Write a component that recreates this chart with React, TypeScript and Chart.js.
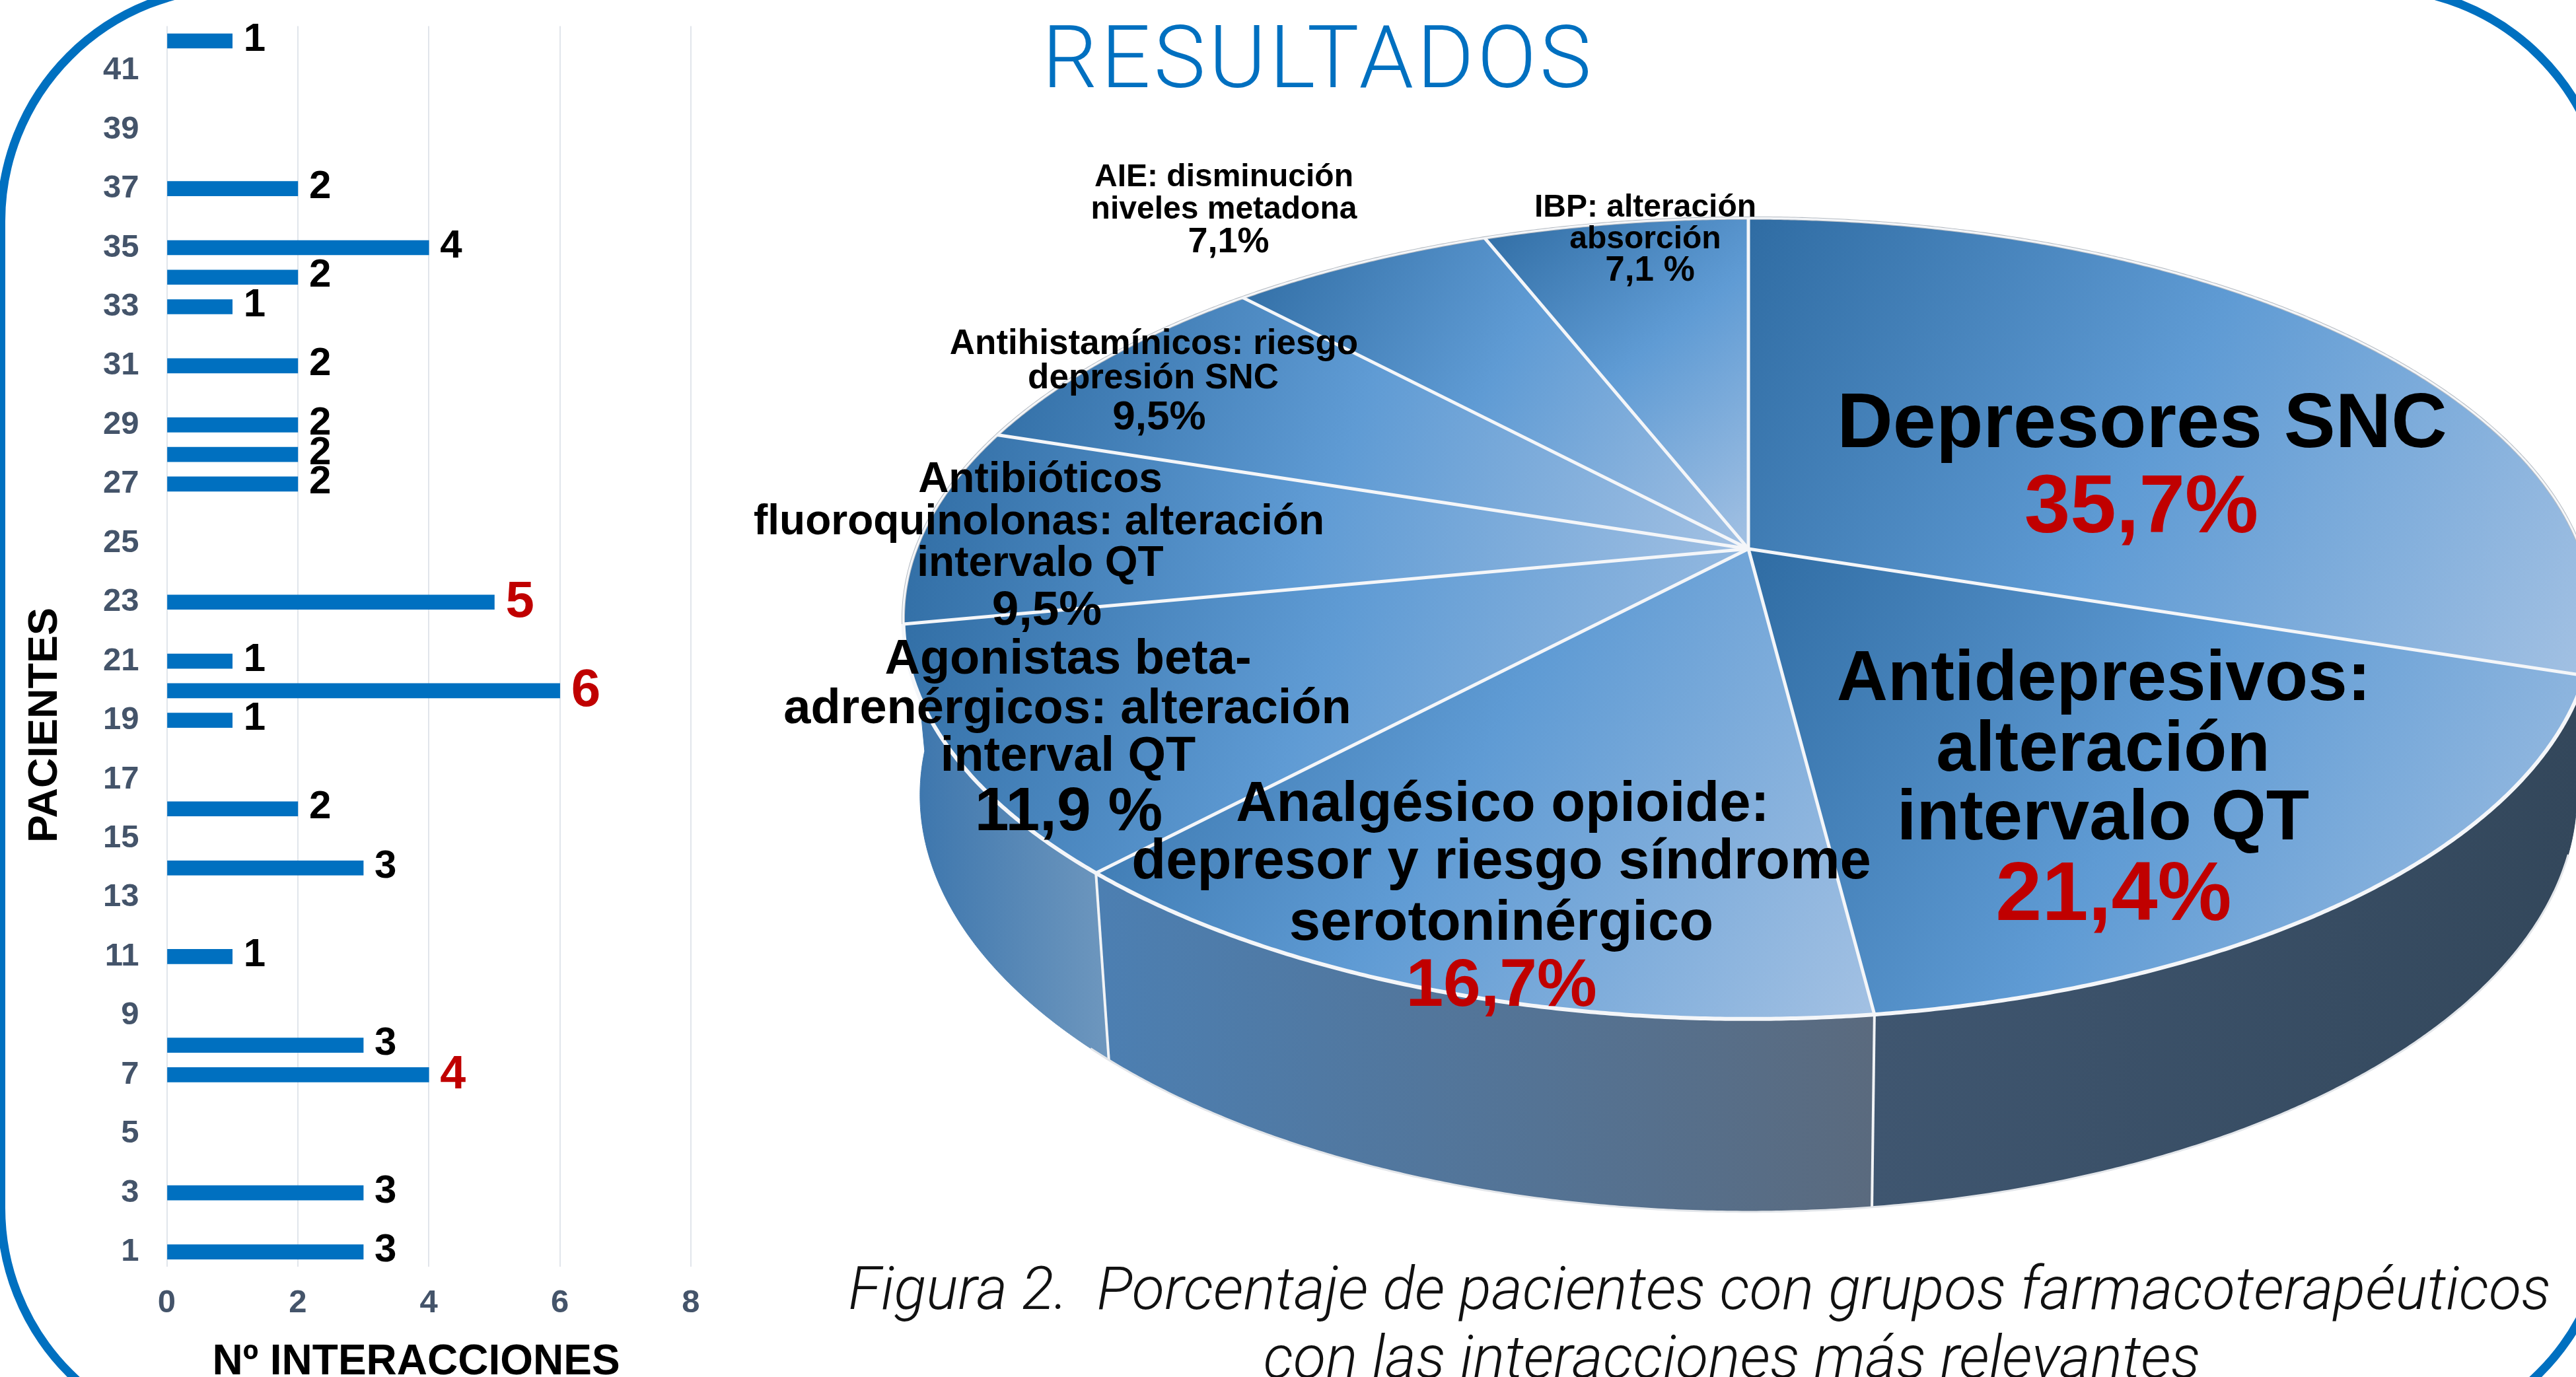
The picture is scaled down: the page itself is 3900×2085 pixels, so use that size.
import React, { useEffect, useRef } from "react";
import { Chart, registerables } from "chart.js";

Chart.register(...registerables);

const patients = Array.from({ length: 42 }, (_, i) => String(i + 1));
const interactions: (number | null)[] = [
  3, null, 3, null, null, null, 4, 3, null, null,
  1, null, null, 3, null, 2, null, null, 1, 6,
  1, null, 5, null, null, null, 2, 2, 2, null,
  2, null, 1, 2, 4, null, 2, null, null, null,
  null, 1,
];
const redBarLabels: Record<number, number> = { 6: 70, 19: 80, 22: 78 };

const groupCounts = [15, 9, 7, 5, 4, 4, 3, 3];
const groupNames = [
  "Depresores SNC",
  "Antidepresivos",
  "Analgésico opioide",
  "Agonistas beta-adrenérgicos",
  "Antibióticos fluoroquinolonas",
  "Antihistamínicos",
  "AIE",
  "IBP",
];
type L = [string, number, number, number, string?];
const pieLabels: L[] = [
  ["Depresores SNC", 3243, 637, 117],
  ["35,7%", 3242, 763, 125, "#C00000"],
  ["Antidepresivos:", 3185, 1023, 107],
  ["alteración", 3184, 1130, 107],
  ["intervalo QT", 3184, 1234, 107],
  ["21,4%", 3200, 1349, 126, "#C00000"],
  ["Analgésico opioide:", 2275, 1214, 85],
  ["depresor y riesgo síndrome", 2273, 1301, 85],
  ["serotoninérgico", 2273, 1394, 85],
  ["16,7%", 2273, 1488, 102, "#C00000"],
  ["Agonistas beta-", 1617, 994, 74],
  ["adrenérgicos: alteración", 1616, 1069, 74],
  ["interval QT", 1617, 1141, 74],
  ["11,9 %", 1618, 1225, 93],
  ["Antibióticos", 1575, 723, 64],
  ["fluoroquinolonas: alteración", 1573, 787, 64],
  ["intervalo QT", 1575, 850, 64],
  ["9,5%", 1585, 921, 73],
  ["Antihistamínicos: riesgo", 1747, 518, 53],
  ["depresión SNC", 1746, 570, 53],
  ["9,5%", 1755, 629, 62],
  ["AIE: disminución", 1853, 265, 48],
  ["niveles metadona", 1853, 314, 48],
  ["7,1%", 1860, 363, 54],
  ["IBP: alteración", 2491, 311, 48],
  ["absorción", 2491, 359, 48],
  ["7,1 %", 2498, 407, 53],
];
const wallStops: [string, string][] = [
  ["#33475B", "#33475B"],
  ["#3F5670", "#33475B"],
  ["#4C7FB2", "#5A6A7E"],
  ["#3A74AC", "#6E97BE"],
];

const FONT = '"Liberation Sans", Arial, sans-serif';

const TOP = { cx: 2647, cy: 831, a: 1260, b: 588, k: 0.174 };
const BOT = { cx: 2647, cy: 1094, a: 1235, b: 612, k: 0.174 };
const WALL_FROM = 95;
const WALL_TO = 266;

function proj(p: typeof TOP, ang: number): [number, number] {
  const X = Math.cos(ang);
  const Y = Math.sin(ang);
  const d = 1 - p.k * Y;
  return [p.cx + (p.a * X) / d, p.cy + (p.b * Y) / d];
}
const rad = (deg: number) => ((deg - 90) * Math.PI) / 180;

function ring(p: typeof TOP, from: number, to: number): [number, number][] {
  const out: [number, number][] = [];
  const n = Math.max(2, Math.ceil((to - from) / 0.005));
  for (let i = 0; i <= n; i++) out.push(proj(p, from + ((to - from) * i) / n));
  return out;
}

const perspectivePie = {
  id: "perspectivePie",
  beforeDatasetsDraw(chart: any) {
    const ctx: CanvasRenderingContext2D = chart.ctx;
    const arcs = chart.getDatasetMeta(0).data as any[];
    ctx.save();
    // side wall
    const vis0 = rad(WALL_FROM);
    const vis1 = rad(WALL_TO);
    arcs.slice(0, 4).forEach((arc, i) => {
      const s = Math.max(arc.startAngle, vis0);
      const e = i === 3 ? vis1 : Math.min(arc.endAngle, vis1);
      const top = ring(TOP, s, e);
      const bot = ring(BOT, s, e).reverse();
      const xs = [...top, ...bot].map((q) => q[0]);
      const x0 = Math.min(...xs);
      const x1 = Math.max(...xs);
      const g = ctx.createLinearGradient(x0, 0, x1, 0);
      g.addColorStop(0, wallStops[i][0]);
      g.addColorStop(1, wallStops[i][1]);
      ctx.beginPath();
      [...top, ...bot].forEach((q, j) => (j ? ctx.lineTo(q[0], q[1]) : ctx.moveTo(q[0], q[1])));
      ctx.closePath();
      ctx.fillStyle = g;
      ctx.fill();
      ctx.strokeStyle = g;
      ctx.lineWidth = 1;
      ctx.stroke();
    });
    // wall dividers and outer rim
    ctx.strokeStyle = "#F2F4F6";
    ctx.lineWidth = 4;
    arcs.slice(1, 3).forEach((arc) => {
      const a = proj(TOP, arc.endAngle);
      const b = proj(BOT, arc.endAngle);
      ctx.beginPath();
      ctx.moveTo(a[0], a[1]);
      ctx.lineTo(b[0], b[1]);
      ctx.stroke();
    });
    ctx.lineWidth = 3;
    ctx.strokeStyle = "#E3E6EA";
    ctx.beginPath();
    ring(BOT, rad(108), rad(225)).forEach((q, j) => (j ? ctx.lineTo(q[0], q[1]) : ctx.moveTo(q[0], q[1])));
    ctx.stroke();

    // top face
    arcs.forEach((arc) => {
      const pts = ring(TOP, arc.startAngle, arc.endAngle);
      const xs = [TOP.cx, ...pts.map((q) => q[0])];
      const ys = [TOP.cy, ...pts.map((q) => q[1])];
      const g = ctx.createLinearGradient(Math.min(...xs), Math.min(...ys), Math.max(...xs), Math.max(...ys));
      g.addColorStop(0, "#2F6CA3");
      g.addColorStop(0.48, "#5F9BD4");
      g.addColorStop(1, "#A3C1E3");
      ctx.beginPath();
      ctx.moveTo(TOP.cx, TOP.cy);
      pts.forEach((q) => ctx.lineTo(q[0], q[1]));
      ctx.closePath();
      ctx.fillStyle = g;
      ctx.fill();
    });
    // back rim gray hairline
    ctx.strokeStyle = "#B5BBC2";
    ctx.lineWidth = 5;
    ctx.beginPath();
    ring(TOP, arcs[3].endAngle, arcs[0].endAngle + 2 * Math.PI).forEach((q, j) =>
      j ? ctx.lineTo(q[0], q[1]) : ctx.moveTo(q[0], q[1])
    );
    ctx.stroke();
    // slice separators and rim
    ctx.strokeStyle = "#F4F6F9";
    ctx.lineWidth = 5;
    arcs.forEach((arc) => {
      const a = proj(TOP, arc.endAngle);
      ctx.beginPath();
      ctx.moveTo(TOP.cx, TOP.cy);
      ctx.lineTo(a[0], a[1]);
      ctx.stroke();
    });
    ctx.lineWidth = 3;
    ctx.beginPath();
    ring(TOP, 0, 2 * Math.PI).forEach((q, j) => (j ? ctx.lineTo(q[0], q[1]) : ctx.moveTo(q[0], q[1])));
    ctx.closePath();
    ctx.stroke();
    ctx.lineWidth = 6;
    ctx.beginPath();
    ring(TOP, arcs[0].endAngle, arcs[3].endAngle).forEach((q, j) => (j ? ctx.lineTo(q[0], q[1]) : ctx.moveTo(q[0], q[1])));
    ctx.stroke();
    ctx.restore();
    return false;
  },
  afterDraw(chart: any) {
    const ctx: CanvasRenderingContext2D = chart.ctx;
    ctx.save();
    ctx.textAlign = "center";
    ctx.textBaseline = "middle";
    pieLabels.forEach(([t, x, y, size, color]) => {
      ctx.font = `bold ${size}px ${FONT}`;
      ctx.fillStyle = color || "#000000";
      ctx.fillText(t, x, y + size * 0.07);
    });
    ctx.restore();
  },
};

const barDecor = {
  id: "barDecor",
  afterDatasetsDraw(chart: any) {
    const ctx: CanvasRenderingContext2D = chart.ctx;
    const meta = chart.getDatasetMeta(0);
    ctx.save();
    ctx.textBaseline = "middle";
    ctx.textAlign = "left";
    meta.data.forEach((bar: any, i: number) => {
      const v = interactions[i];
      if (v == null) return;
      const red = redBarLabels[i];
      ctx.font = `bold ${red || 60}px ${FONT}`;
      ctx.fillStyle = red ? "#C00000" : "#000000";
      ctx.fillText(String(v), bar.x + 17, bar.y + (red ? 1 : -2));
    });
    ctx.fillStyle = "#000000";
    ctx.font = `bold 64px ${FONT}`;
    ctx.textAlign = "center";
    ctx.fillText("Nº INTERACCIONES", 630, 2063);
    ctx.font = `bold 63px ${FONT}`;
    ctx.translate(69, 1098);
    ctx.rotate(-Math.PI / 2);
    ctx.fillText("PACIENTES", 0, 0);
    ctx.restore();
  },
};

export default function App() {
  const barRef = useRef<HTMLCanvasElement>(null);
  const pieRef = useRef<HTMLCanvasElement>(null);

  useEffect(() => {
    document.body.style.margin = "0";
    const bar = new Chart(barRef.current!, {
      type: "bar",
      data: {
        labels: patients,
        datasets: [
          {
            data: interactions as any,
            backgroundColor: "#0070C0",
            barThickness: 22,
          },
        ],
      },
      options: {
        indexAxis: "y",
        animation: false,
        responsive: false,
        layout: { padding: { top: 39.6, right: 104, left: 0, bottom: 0 } },
        plugins: { legend: { display: false }, tooltip: { enabled: false } },
        scales: {
          x: {
            min: 0,
            max: 8,
            ticks: {
              stepSize: 2,
              color: "#44546A",
              padding: 26,
              font: { family: FONT, size: 49, weight: "bold" },
            },
            grid: { color: "#E1E5EB", lineWidth: 2, drawTicks: false },
            border: { display: false },
            afterFit: (s: any) => {
              s.height = 167;
              s.paddingLeft = 0;
              s.paddingRight = 0;
            },
          },
          y: {
            reverse: true,
            ticks: {
              autoSkip: false,
              color: "#44546A",
              padding: 42,
              font: { family: FONT, size: 49, weight: "bold" },
              callback: (_v: any, i: number) => (i % 2 === 0 ? patients[i] : ""),
            },
            grid: { display: false, drawTicks: false },
            border: { display: false },
            afterFit: (s: any) => {
              s.width = 252.5;
              s.paddingTop = 0;
              s.paddingBottom = 0;
            },
          },
        },
      },
      plugins: [barDecor],
    } as any);
    const pie = new Chart(pieRef.current!, {
      type: "pie",
      data: {
        labels: groupNames,
        datasets: [{ data: groupCounts, borderWidth: 0 }],
      },
      options: {
        animation: false,
        responsive: false,
        plugins: { legend: { display: false }, tooltip: { enabled: false } },
      },
      plugins: [perspectivePie],
    } as any);
    return () => {
      bar.destroy();
      pie.destroy();
    };
  }, []);

  const abs: React.CSSProperties = { position: "absolute", left: 0, top: 0 };
  return (
    <div style={{ position: "relative", width: 3900, height: 2085, overflow: "hidden", background: "#fff" }}>
      <div
        style={{
          position: "absolute",
          left: -5,
          top: -25,
          width: 3960,
          height: 2214,
          boxSizing: "border-box",
          border: "13px solid #0070C0",
          borderRadius: 360,
        }}
      />
      <canvas ref={pieRef} width={3900} height={2085} style={abs} />
      <canvas ref={barRef} width={1150} height={2085} style={abs} />
      <div
        style={{
          position: "absolute",
          left: 1996,
          top: 87,
          transform: "translate(-50%,-50%)",
          font: `300 132px Roboto, ${FONT}`,
          letterSpacing: 5,
          color: "#0070C0",
          whiteSpace: "pre",
        }}
      >
        RESULTADOS
      </div>
      <div
        style={{
          position: "absolute",
          left: 2573,
          top: 1951,
          transform: "translate(-50%,-50%)",
          font: `italic 300 90.5px Roboto, ${FONT}`,
          color: "#111",
          whiteSpace: "pre",
        }}
      >
        Figura 2.  Porcentaje de pacientes con grupos farmacoterapéuticos
      </div>
      <div
        style={{
          position: "absolute",
          left: 2622,
          top: 2055,
          transform: "translate(-50%,-50%)",
          font: `italic 300 90.5px Roboto, ${FONT}`,
          color: "#111",
          whiteSpace: "pre",
        }}
      >
        con las interacciones más relevantes
      </div>
    </div>
  );
}
